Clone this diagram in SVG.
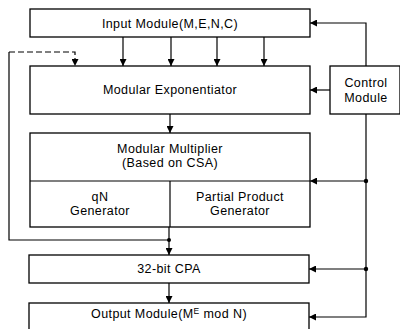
<svg xmlns="http://www.w3.org/2000/svg" width="400" height="329" viewBox="0 0 400 329">
<style>
.box{fill:#fff;stroke:#000;stroke-width:1.3}
.ln{fill:none;stroke:#000;stroke-width:1.2}
.dash{fill:none;stroke:#000;stroke-width:1.2;stroke-dasharray:6 3}
text{font-family:"Liberation Sans",Arial,sans-serif;font-size:12.5px;letter-spacing:0.4px;fill:#000;text-anchor:middle}
</style>
<defs>
<marker id="ah" viewBox="0 0 10 10" refX="10" refY="5" markerWidth="7" markerHeight="7" markerUnits="userSpaceOnUse" orient="auto">
<path d="M0,0 L10,5 L0,10 z" fill="#000"/>
</marker>
</defs>
<rect width="400" height="329" fill="#fff"/>
<g id="input"><rect class="box" x="30" y="9" width="280" height="28"/><text x="170" y="28">Input Module(M,E,N,C)</text></g>
<g id="exponentiator"><rect class="box" x="30" y="66" width="280" height="48"/><text x="170" y="94">Modular Exponentiator</text></g>
<g id="multiplier"><rect class="box" x="30" y="133" width="280" height="94"/><line class="ln" x1="30" y1="181" x2="310" y2="181"/><line class="ln" x1="170" y1="181" x2="170" y2="227"/><text x="170" y="153">Modular Multiplier</text><text x="170" y="167">(Based on CSA)</text></g>
<g id="qn"><text x="100" y="201">qN</text><text x="100" y="215">Generator</text></g>
<g id="ppg"><text x="240" y="201">Partial Product</text><text x="240" y="215">Generator</text></g>
<g id="cpa"><rect class="box" x="29" y="255" width="280" height="28"/><text x="169" y="273">32-bit CPA</text></g>
<g id="output"><rect class="box" x="29" y="303" width="280" height="30"/><text x="169" y="318">Output Module(M<tspan font-size="8.5" dy="-4.5">E</tspan><tspan dy="4.5"> mod N)</tspan></text></g>
<g id="control"><rect class="box" x="330" y="66" width="70" height="48"/><text x="366" y="87">Control</text><text x="366" y="102">Module</text></g>
<g id="connectors">
<line class="ln" x1="123" y1="37" x2="123" y2="66" marker-end="url(#ah)"/>
<line class="ln" x1="171" y1="37" x2="171" y2="66" marker-end="url(#ah)"/>
<line class="ln" x1="217" y1="37" x2="217" y2="66" marker-end="url(#ah)"/>
<line class="ln" x1="264" y1="37" x2="264" y2="66" marker-end="url(#ah)"/>
<line class="ln" x1="170" y1="114" x2="170" y2="133" marker-end="url(#ah)"/>
<path class="dash" d="M9,52 H75 V66" marker-end="url(#ah)"/>
<path class="ln" d="M9,52 V240 H169"/>
<line class="ln" x1="169" y1="227" x2="169" y2="255" marker-end="url(#ah)"/>
<circle cx="169" cy="240" r="2"/>
<line class="ln" x1="169" y1="283" x2="169" y2="303" marker-end="url(#ah)"/>
<path class="ln" d="M366,66 V23 H310" marker-end="url(#ah)"/>
<line class="ln" x1="330" y1="90" x2="310" y2="90" marker-end="url(#ah)"/>
<path class="ln" d="M366,114 V317 H309" marker-end="url(#ah)"/>
<line class="ln" x1="366" y1="181" x2="310" y2="181" marker-end="url(#ah)"/>
<line class="ln" x1="366" y1="269" x2="309" y2="269" marker-end="url(#ah)"/>
<circle cx="366" cy="181" r="2.2"/>
<circle cx="366" cy="269" r="2.2"/>
</g>
</svg>
